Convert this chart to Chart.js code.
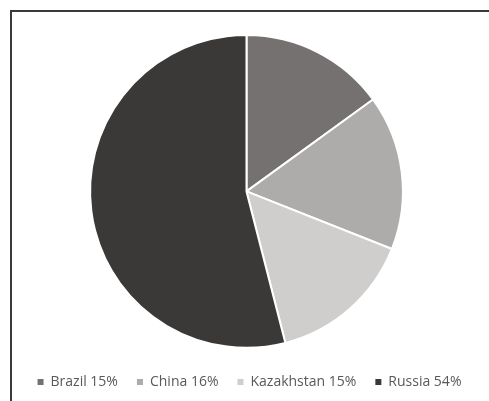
<!DOCTYPE html>
<html>
<head>
<meta charset="utf-8">
<script src="https://cdn.jsdelivr.net/npm/chart.js@4"></script>
<style>
  html, body { margin: 0; padding: 0; background: #fff; }
  body { width: 489px; height: 401px; position: relative; overflow: hidden; }
  .frame { position: absolute; left: 10px; top: 10px; width: 500px; height: 420px;
    border-top: 2px solid #3a3a3a; border-left: 2px solid #3a3a3a; }
  #wrap { position: absolute; left: 0; top: 0; width: 489px; height: 401px; }
</style>
</head>
<body>
<div class="frame"></div>
<div id="wrap"><canvas id="pie"></canvas></div>
<script>
// shares by country
const countries = ['Brazil', 'China', 'Kazakhstan', 'Russia'];
const shares = [15, 16, 15, 54];
const sliceColors = ['#767171', '#aeabab', '#d0cecd', '#3b3838'];

const el = document.getElementById('pie');

// nudge the legend row a little to the right, like the original
const legendShift = {
  id: 'legendShift',
  afterLayout(chart) {
    const lg = chart.legend;
    if (!lg) return;
    lg.left += 3;
    lg.right += 3;
  }
};

new Chart(el, {
  type: 'pie',
  data: {
    labels: countries,
    datasets: [{
      data: shares,
      backgroundColor: sliceColors,
      borderColor: '#ffffff',
      borderWidth: 2
    }]
  },
  options: {
    responsive: true,
    maintainAspectRatio: false,
    animation: false,
    layout: { padding: { top: 34, bottom: 2, left: 4, right: 0 } },
    plugins: {
      tooltip: { enabled: false },
      legend: {
        position: 'bottom',
        // empty title just to open a gap between pie and legend row
        title: { display: true, text: ' ', font: { size: 1 }, padding: { top: 0, bottom: 6 } },
        labels: {
          boxWidth: 6,
          boxHeight: 6,
          padding: 19,
          color: '#595959',
          font: { family: '"Open Sans", sans-serif', size: 14 },
          generateLabels: chart => {
            const ds = chart.data.datasets[0];
            return chart.data.labels.map((l, i) => ({
              text: l + ' ' + ds.data[i] + '%',
              fillStyle: ds.backgroundColor[i],
              strokeStyle: ds.backgroundColor[i],
              lineWidth: 0,
              fontColor: '#595959',
              index: i
            }));
          }
        }
      }
    }
  },
  plugins: [legendShift]
});
</script>
</body>
</html>
